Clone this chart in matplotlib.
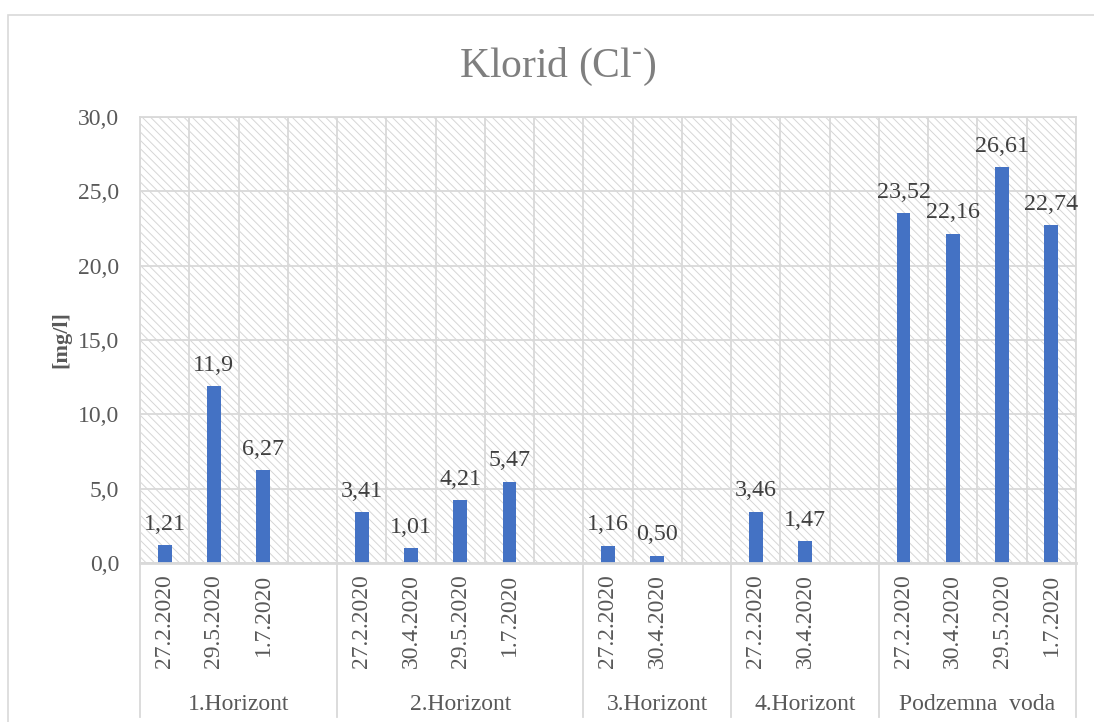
import numpy as np
import matplotlib
matplotlib.use('Agg')
import matplotlib.pyplot as plt
from matplotlib.patches import Rectangle
from matplotlib.transforms import blended_transform_factory

plt.rcParams['font.family'] = ['Liberation Serif', 'DejaVu Serif']
plt.rcParams['mathtext.fontset'] = 'custom'
plt.rcParams['mathtext.rm'] = 'Liberation Serif'
plt.rcParams['hatch.linewidth'] = 0.7
plt.rcParams['hatch.color'] = '#d6d6d6'

# data (one slot per date, empty slot ends a group)
groups = ['1.Horizont', '2.Horizont', '3.Horizont', '4.Horizont', 'Podzemna  voda']
dates = [
    ['27.2.2020', '29.5.2020', '1.7.2020', ''],
    ['27.2.2020', '30.4.2020', '29.5.2020', '1.7.2020', ''],
    ['27.2.2020', '30.4.2020', ''],
    ['27.2.2020', '30.4.2020', ''],
    ['27.2.2020', '30.4.2020', '29.5.2020', '1.7.2020'],
]
values = [
    [1.21, 11.9, 6.27, None],
    [3.41, 1.01, 4.21, 5.47, None],
    [1.16, 0.50, None],
    [3.46, 1.47, None],
    [23.52, 22.16, 26.61, 22.74],
]
value_labels = [
    ['1,21', '11,9', '6,27', ''],
    ['3,41', '1,01', '4,21', '5,47', ''],
    ['1,16', '0,50', ''],
    ['3,46', '1,47', ''],
    ['23,52', '22,16', '26,61', '22,74'],
]
yticks = [0, 5, 10, 15, 20, 25, 30]
ytick_labels = ['0,0', '5,0', '10,0', '15,0', '20,0', '25,0', '30,0']

grid_c = '#d9d9d9'
text_c = '#595959'
bar_c = '#4472C4'

fig = plt.figure(figsize=(10.94, 7.22), dpi=100)
ax = fig.add_axes([140 / 1094, 159 / 722, 936 / 1094, 446 / 722])

# outer chart border
fig.patches.append(Rectangle((8 / 1094, -0.1), 1.2, 0.1 + 707 / 722,
                             transform=fig.transFigure, fill=False,
                             edgecolor=grid_c, linewidth=1.2))

all_dates = [d for g in dates for d in g]
all_vals = [v for g in values for v in g]
all_lbls = [l for g in value_labels for l in g]
x = np.arange(len(all_dates))

# hatched plot background
ax.add_patch(Rectangle((0, 0), 1, 1, transform=ax.transAxes, facecolor='white',
                       edgecolor='#d6d6d6', hatch='\\\\\\\\', linewidth=0, zorder=0.1))

for xi, v, lbl in zip(x, all_vals, all_lbls):
    if v is None:
        continue
    ax.bar(xi, v, width=0.28, color=bar_c, zorder=2)
    ax.annotate(lbl, (xi, v), xytext=(0, 11), textcoords='offset points',
                ha='center', va='baseline', fontsize=17.3, color='#404040')

ax.set_xlim(-0.5, len(all_dates) - 0.5)
ax.set_ylim(0, 30)
ax.set_yticks(yticks)
ax.set_yticklabels(ytick_labels, fontsize=17, color=text_c)
ax.set_xticks(x)
ax.set_xticklabels(all_dates, rotation=90, fontsize=17, color=text_c)
ax.tick_params(length=0)
ax.tick_params(axis='y', pad=15)
ax.tick_params(axis='x', pad=8)
ax.set_xticks(np.arange(-0.5, len(all_dates)), minor=True)
ax.tick_params(which='minor', length=0)
ax.grid(True, which='major', axis='y', color=grid_c, linewidth=1.3)
ax.grid(True, which='minor', axis='x', color=grid_c, linewidth=1.3)
ax.set_axisbelow(True)
for s in ax.spines.values():
    s.set_color(grid_c)
    s.set_linewidth(1.3)
ax.spines['bottom'].set_linewidth(2)

ax.set_ylabel('[mg/l]', fontsize=16, fontweight='bold', color=text_c, labelpad=5)

# group labels and separators under the axis
trans = blended_transform_factory(ax.transData, ax.transAxes)
start = -0.5
bounds = [start]
for g, d in zip(groups, dates):
    end = start + len(d)
    ax.text((start + end) / 2, -142 / 446, g, transform=trans, ha='center',
            va='center', fontsize=17, color=text_c)
    bounds.append(end)
    start = end
for b in bounds:
    ax.plot([b, b], [0, -154 / 446], transform=trans, color=grid_c,
            linewidth=1.3, clip_on=False)

fig.text(558 / 1094, 1 - 67 / 722, r'Klorid (Cl$^{\text{-}}$)', ha='center',
         va='center', fontsize=30, color='#7f7f7f')

fig.savefig('out.png', dpi=100)
